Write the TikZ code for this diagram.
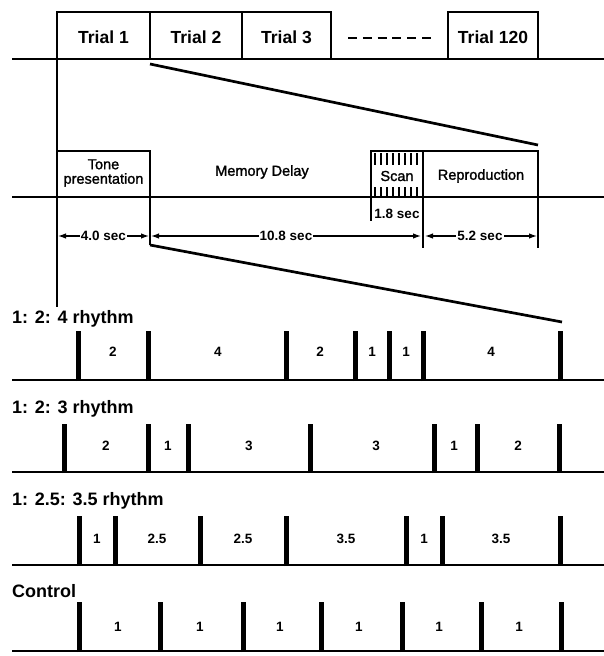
\documentclass[tikz,border=0pt]{standalone}
\usepackage{fontspec}
\setmainfont{Liberation Sans}
\newfontfamily\medfont[FakeBold=1.5]{Liberation Sans}
\usetikzlibrary{arrows.meta}
\begin{document}
\begin{tikzpicture}[x=1pt,y=-1pt,
  baseln/.style={line width=2.7pt},
  boxln/.style={line width=2.2pt},
  thin/.style={line width=1.8pt},
  tickln/.style={line width=5pt},
  trialtxt/.style={font=\fontsize{17.5}{19}\selectfont\bfseries, inner sep=0},
  midtxt/.style={font=\fontsize{14.5}{15.5}\selectfont\medfont, inner sep=0, align=center},
  rowlbl/.style={font=\fontsize{18}{20}\selectfont\bfseries, anchor=west, inner sep=0},
  num/.style={font=\fontsize{13.5}{15}\selectfont\bfseries, inner sep=0},
  dimtxt/.style={font=\fontsize{13.5}{15}\selectfont\bfseries, fill=white, inner sep=1pt},
  dimln/.style={line width=1.2pt, {Latex[length=8pt,width=5.5pt]}-{Latex[length=8pt,width=5.5pt]}},
]
\useasboundingbox (0,0) rectangle (604,656);

% ---------- top: trials ----------
\draw[baseln] (12,59) -- (604,59);
\draw[boxln] (57,59) |- (150,12) -- (150,59);
\draw[boxln] (150,12) -| (242,59);
\draw[boxln] (242,12) -| (331,59);
\draw[boxln] (448,59) |- (538,12) -- (538,59);
\node[trialtxt] (t1) at (103.5,37) {Trial 1};
\node[trialtxt] (t2) at (196,37) {Trial 2};
\node[trialtxt] (t3) at (286.5,37) {Trial 3};
\node[trialtxt] (t120) at (493,37) {Trial 120};
\draw[line width=2.4pt, dash pattern=on 9pt off 5.8pt] (348,38) -- (432,38);

% ---------- zoom lines ----------
\draw[thin] (57,59) -- (57,307);
\draw[baseln] (150,64) -- (538,145);

% ---------- middle: trial structure ----------
\draw[baseln] (12,197) -- (604,197);
\draw[boxln] (57,197) |- (150,151) -- (150,197);
\draw[boxln] (371,197) |- (538,151) -- (538,197);
\draw[boxln] (423,151) -- (423,197);
\node[midtxt] (tone) at (103.5,173) {Tone\\[-1pt]presentation};
\node[midtxt] (mem) at (262,172) {Memory Delay};
\node[midtxt] (scan) at (397,176) {Scan};
\node[midtxt] (rep) at (481,176) {Reproduction};
\foreach \x in {375,381,...,417} {
  \draw[line width=1.5pt] (\x,153) -- (\x,165);
  \draw[line width=1.5pt] (\x,187) -- (\x,196);
}
\draw[thin] (150,197) -- (150,245);
\draw[baseln] (150,245) -- (562,322);
\draw[thin] (371,197) -- (371,221);
\draw[thin] (423,197) -- (423,248);
\draw[thin] (538,197) -- (538,248);
\node[num] (s18) at (397,214) {1.8 sec};
\draw[dimln] (58,236) -- (149,236);
\draw[dimln] (151,236) -- (421,236);
\draw[dimln] (425,236) -- (537,236);
\node[dimtxt] (d1) at (103.5,236) {4.0 sec};
\node[dimtxt] (d2) at (286,236) {10.8 sec};
\node[dimtxt] (d3) at (480,236) {5.2 sec};

% ---------- rhythm rows ----------
% row 1
\node[rowlbl] (r1) at (12,319) {1: 2: 4 rhythm};
\draw[baseln] (12,380) -- (604,380);
\foreach \x in {78,148,286,355,389,423,560} \draw[tickln] (\x,381) -- (\x,331);
\foreach \x/\t in {113/2,218/4,320/2,372/1,406/1,491/4} \node[num] at (\x,352) {\t};

% row 2
\node[rowlbl] (r2) at (12,409) {1: 2: 3 rhythm};
\draw[baseln] (12,472) -- (604,472);
\foreach \x in {64,148,188,310,434,477,559} \draw[tickln] (\x,473) -- (\x,424);
\foreach \x/\t in {106/2,168/1,249/3,376/3,454/1,518/2} \node[num] at (\x,446) {\t};

% row 3
\node[rowlbl] (r3) at (12,501) {1: 2.5: 3.5 rhythm};
\draw[baseln] (12,565) -- (604,565);
\foreach \x in {79,115,200,286,406,442,560} \draw[tickln] (\x,566) -- (\x,516);
\foreach \x/\t in {97/1,157/2.5,243/2.5,346/3.5,424/1,501/3.5} \node[num] at (\x,539) {\t};

% row 4
\node[rowlbl] (r4) at (12,591) {Control};
\draw[baseln] (12,651) -- (604,651);
\foreach \x in {79,160,243,321,402,481,561} \draw[tickln] (\x,652) -- (\x,602);
\foreach \x/\t in {118/1,200/1,280/1,359/1,439/1,519/1} \node[num] at (\x,627) {\t};
\end{tikzpicture}
\end{document}
